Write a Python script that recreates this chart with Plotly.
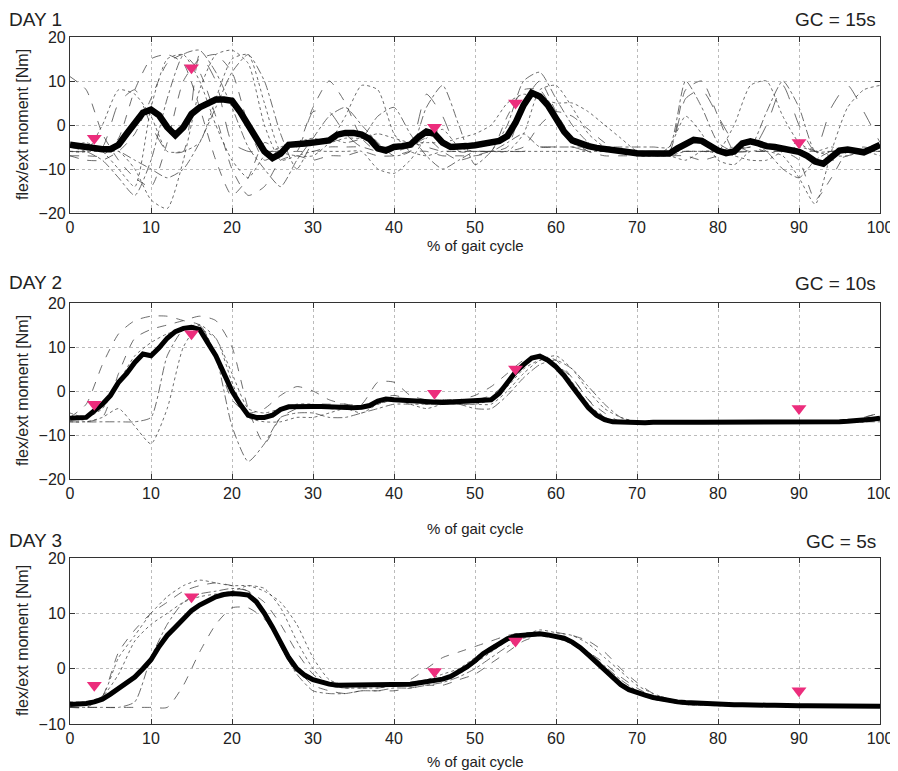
import plotly.graph_objects as go

# --- data ----------------------------------------------------------------
pct = list(range(0, 101))          # mean curves, 1 % steps
pct2 = list(range(0, 101, 2))      # single trials, 2 % steps

day1_mean = [-4.5, -4.8, -5, -5.2, -5.5, -5.5, -4.5, -2, 0.5, 2.8,
             3.5, 2.2, -0.5, -2.3, -0.5, 2.5, 4, 5, 5.8, 5.8,
             5.5, 3, 0, -3, -6, -7.5, -6.5, -4.5, -4.5, -4.2,
             -4, -3.8, -3.5, -2.2, -1.8, -1.8, -2.2, -3.2, -5.3, -5.8,
             -5, -4.8, -4.5, -2.8, -1.5, -2, -4, -5, -5, -4.8,
             -4.6, -4.3, -4, -3.6, -2.5, 0.5, 4.5, 7.3, 6.5, 4.5,
             1.5, -1.5, -3.5, -4.3, -4.8, -5.2, -5.5, -5.8, -6, -6.2,
             -6.4, -6.5, -6.6, -6.7, -6.5, -5.3, -4.2, -3.4, -3.6, -4.8,
             -5.8, -6.4, -6, -4.2, -3.7, -4.2, -4.8, -5, -5.3, -5.7,
             -6.1, -7, -8.3, -8.8, -7.5, -5.8, -5.6, -5.8, -6.2, -5.4,
             -4.5]

day1_trials = [
    [11, 8, -2, -8, -12, -14, -4, 10, 15, 16, 12, 0, -8, -6, -5, 4, 10, 5, -3, -6,
     -5, -4, -5, -6, -6, -6, -6, -5, 5, 10, 3, -3, -6, -6, -6, -6, -6, -6, 8, 10,
     2, -6, -6, -6, -6, -6, -6, -6, -6, -6, -6],
    [-6, -6, 0, 8, 7, 2, -6, -6, -4, 6, 15, 16, 5, -6, -7, -7, -4, 2, 9, 8,
     -2, -6, -7, -6, -6, -6, -6, -6, -2, 8, 9, 4, -2, -5, -6, -6, -7, -7, -6, -6,
     -6, 0, 9, 10, 2, -4, -6, -5, -6, -6, -6],
    [-5, -6, -8, -12, -16, -8, 6, 16, 17, 12, 4, -5, -10, -14, -8, -3, 2, 4, 0, -4,
     -7, -6, 4, 9, 0, -9, -6, 0, 10, 12, 6, 0, -4, -6, -6, -6, -6, -6, -6, -6,
     -6, -5, -5, 3, 10, 4, -6, -6, -6, -6, -6],
    [-7, -7, -7, -3, 8, 15, 16, 14, 4, -8, -16, -12, -4, -6, -6, -6, -5, -5, -5, -6,
     -6, -5, -3, -6, -8, -7, -6, -6, -5, 0, 3, 2, -1, -4, -6, -6, -6, -6, -6, -6,
     -6, -6, -6, -6, -6, -8, -17, -12, -6, -5, -6],
    [-6, -6, -6, -6, -10, -17, -19, -8, 8, 16, 17, 14, 0, -8, -7, -6, -6, -6, -6, -10,
     -11, -8, -3, -1, -5, -6, -6, -6, -6, -6, -6, -6, -6, -6, -6, -7, -7, -5, 2, -2,
     -8, -9, -6, -6, -7, -12, -18, -6, 4, 8, 9],
    [-6, -6, -5, 5, 8, 0, -6, -6, 16, 10, -4, -6, -6, -6, -6, 3, 3, -2, -5, -5,
     -5, -5, 7, 2, -6, -6, -6, -6, -6, -5, -5, -5, -6, -6, -6, -6, -6, -6, 6, 8,
     2, -4, -6, 0, 9, 0, -6, 4, 9, 3, -4],
    [-5, -4, -6, -10, -14, 4, 15, 16, 10, 0, -8, -12, -7, -5, -4, -3, -4, -3, -3, -2,
     -3, -4, -4, -4, -3, -2, 0, 5, 7, 6, 5, 5, 3, 0, -3, -6, -7, -7, -8, -6,
     -6, -7, -8, -8, -6, -5, -6, -7, -7, -6, -7],
    [-7, -8, -8, -6, -2, 6, 14, 16, 12, 2, -10, -16, -14, -8, -7, -8, -7, -7, -6, -7,
     -7, -6, -6, -7, -7, -7, -6, 2, 8, 8, 2, -4, -6, -7, -7, -7, -7, -7, -7, -8,
     -7, -6, -5, -6, -5, -4, -6, -8, -7, -6, -6],
    [-5, -5, -6, -6, -8, -10, -12, -10, -4, 4, 12, 16, 10, -2, -10, -4, -3, -4, -3, 2,
     4, -2, -7, -10, -8, -6, -6, -4, -2, -5, -5, -5, -5, -5, -5, -5, -5, -5, 10, 4,
     -4, -6, -4, -6, -10, -12, -8, -6, -6, -6, -5],
]

day2_mean = [-6.2, -6.2, -6, -4.5, -3, -1, 2, 4, 6.5, 8.4,
             8, 9.8, 12, 13.5, 14.2, 14.5, 14, 11, 8, 4,
             0, -3, -5.5, -6, -6, -5.5, -4.2, -3.6, -3.5, -3.5,
             -3.5, -3.5, -3.6, -3.7, -3.8, -3.8, -3.7, -3.3, -2.3, -1.8,
             -2, -2.1, -2.3, -2.4, -2.5, -2.6, -2.6, -2.5, -2.4, -2.4,
             -2.4, -2.3, -2, -0.5, 2, 4.3, 6, 7.5, 7.9, 7,
             5.5, 3.5, 1, -1.5, -3.8, -5.5, -6.5, -7, -7.1, -7.2,
             -7.2, -7.2, -7.1, -7.2, -7.1, -7.1, -7.2, -7.1, -7.1, -7.1,
             -7.0, -7.1, -7.1, -7.0, -7.1, -7.1, -7.1, -7.2, -7.2, -7.2,
             -7.2, -7.2, -7.1, -7.1, -7.1, -7.0, -6.9, -6.8, -6.7, -6.4,
             -6.2]

day2_trials = [
    [-6, -3, 6, 13, 16, 17, 17, 16, 15, 8, -2, -5, -4, -1, 1, 0, -2, -3, -3, 2,
     2, -1, -2, -2, -2, -1, 1, 4, 7, 8, 6, 3, -2, -5, -7, -7, -7, -7, -7, -7,
     -7, -7, -7, -7, -7, -7, -7, -7, -7, -6, -5],
    [-7, -7, -6, -4, -8, -12, -4, 10, 15, 12, 4, -4, -5, -4, -3, -3, -4, -4, -4, -3,
     -2, -2, -3, -3, -3, -3, -3, 0, 4, 7, 8, 5, 0, -4, -6, -7, -7, -7, -7, -7,
     -7, -7, -7, -7, -7, -7, -7, -7, -7, -7, -6],
    [-6, -7, -7, -7, -7, -6, 8, 14, 15, 8, -8, -16, -12, -6, -5, -5, -6, -6, -5, -4,
     -3, -3, -3, -3, -3, -4, -4, -1, 3, 6, 7, 5, 1, -3, -6, -7, -7, -7, -7, -7,
     -7, -7, -7, -7, -7, -7, -7, -7, -7, -7, -7],
    [-7, -7, -6, 4, 12, 14, 15, 16, 17, 16, 10, -4, -12, -6, -4, -3, -3, -3, -4, -2,
     -1, -2, -3, -2, -2, -2, -1, 2, 6, 8, 7, 3, -2, -6, -7, -7, -7, -7, -7, -7,
     -7, -7, -7, -7, -7, -7, -7, -7, -7, -6, -5],
    [-5, -6, -4, 2, 8, 11, 13, 14, 14, 12, 2, -6, -7, -7, -6, -6, -5, -4, -5, -3,
     -2, -3, -4, -3, -3, -3, -2, 1, 5, 7, 6, 2, -3, -6, -7, -7, -7, -7, -7, -7,
     -7, -7, -7, -7, -7, -7, -7, -7, -7, -7, -6],
]

day3_mean = [-6.5, -6.5, -6.3, -6, -5.5, -4.6, -3.6, -2.6, -1.5, 0,
             1.6, 4, 6, 7.5, 9, 10.5, 11.5, 12.3, 13, 13.4,
             13.6, 13.5, 13.3, 12.1, 10, 7.5, 4.6, 2, 0, -1.2,
             -2, -2.5, -2.8, -3, -3, -3, -3, -3, -3, -3,
             -3, -2.9, -2.8, -2.6, -2.4, -2.2, -1.9, -1.4, -0.6, 0.3,
             1.4, 2.7, 3.6, 4.6, 5.4, 5.9, 6.1, 6.3, 6.3, 6.1,
             5.9, 5.5, 4.8, 3.8, 2.5, 1.2, -0.2, -1.7, -2.9, -3.8,
             -4.4, -4.8, -5.2, -5.5, -5.8, -6, -6.1, -6.2, -6.3, -6.4,
             -6.4, -6.5, -6.5, -6.5, -6.6, -6.6, -6.6, -6.6, -6.7, -6.7,
             -6.7, -6.7, -6.7, -6.8, -6.8, -6.8, -6.8, -6.8, -6.8, -6.8,
             -6.8]

day3_trials = [
    [-7, -7, -5, 3, 7, 10, 12, 14, 15, 15.5, 15, 14, 12, 8, 3, -1, -3, -3.5, -3.5, -3.5,
     -3, -2, 0, 2, 3, 4, 5, 6, 6.5, 6.5, 6, 5, 3, 1, -1.5, -3.5, -5, -5.5, -6, -6.3,
     -6.5, -6.5, -6.6, -6.6, -6.7, -6.7, -6.7, -6.8, -6.8, -6.8, -6.8],
    [-6, -6.5, -5, 2, 6, 10, 13, 15, 16, 15.5, 15, 15, 14, 12, 8, 2, -2, -3, -3, -3,
     -3, -3, -2.5, -2, -1, 1, 3, 5, 6, 7, 6.5, 6, 4.5, 2, -0.5, -3, -4.5, -5.5, -6, -6.3,
     -6.5, -6.6, -6.6, -6.7, -6.7, -6.8, -6.8, -6.8, -6.8, -6.9, -6.9],
    [-7, -7, -7, -7, -6, 2, 8, 12, 13.5, 14, 14.5, 14, 10, 4, -1, -4, -4.5, -4.5, -4, -4,
     -3.5, -3.5, -3, -2.5, -1.5, 0, 2, 4, 5.5, 6, 6, 5, 3, 0.5, -2, -4, -5.5, -6, -6.5, -6.6,
     -6.7, -6.7, -6.8, -6.8, -6.8, -6.9, -6.9, -6.9, -6.9, -6.9, -6.9],
    [-7, -7, -7, -7, -7, -7, -7, -3, 3, 8, 11, 11, 9, 5, 0, -3, -4, -4.5, -4, -4,
     -4, -3.5, -3, -3, -2, -1, 1, 3, 5, 6, 6.5, 6, 5, 3, 0, -2.5, -4.5, -5.5, -6, -6.3,
     -6.5, -6.6, -6.6, -6.7, -6.7, -6.8, -6.8, -6.8, -6.8, -6.8, -6.8],
    [-6, -6, -5, -1, 5, 8, 10, 12, 13, 13.5, 14, 15, 14.5, 11, 5, 0, -3, -3.5, -3.5, -3.5,
     -3, -2.5, -2, -1, 0, 2, 4, 5.5, 6, 6, 5.5, 4.5, 2.5, 0, -2.5, -4.5, -5.5, -6, -6.5, -6.6,
     -6.6, -6.7, -6.7, -6.7, -6.8, -6.8, -6.8, -6.8, -6.8, -6.8, -6.8],
]

event_x = [3, 15, 45, 55, 90]
event_y = [-3, 13, -0.5, 5, -4]

day_names = ["DAY 1", "DAY 2", "DAY 3"]
gc_labels = ["GC = 15s", "GC = 10s", "GC = 5s"]
y_ranges = [[-20, 20], [-20, 20], [-10, 20]]

# --- layout, in pixels of the reference picture -------------------------
# the html page has an 8px body margin, so the figure itself is shifted
OFF = 8
W, H = 898 - OFF, 771 - OFF
panel_px = [(37, 213), (303, 479), (558, 724)]   # top, bottom of each plot box
title_px = [19, 282, 540]
xlabel_px = [245, 528, 761]
mean_width = [6.5, 5, 5]

FONT = "Liberation Sans, Arial, sans-serif"
PINK = "#ec2d7c"
dashes = ["dash", "dot", "dashdot", "dash", "dot", "longdash", "dot", "dash", "dashdot"]


def px(p):
    return (p - OFF) / W


def py(p):
    return 1 - (p - OFF) / H


fig = go.Figure()
all_means = [day1_mean, day2_mean, day3_mean]
all_trials = [day1_trials, day2_trials, day3_trials]
annotations = []

for k in range(3):
    n = "" if k == 0 else str(k + 1)
    xa, ya = "x" + n, "y" + n
    for j, tr in enumerate(all_trials[k]):
        fig.add_trace(go.Scatter(
            x=pct2, y=tr, xaxis=xa, yaxis=ya, mode="lines",
            line=dict(color="rgba(60,60,60,0.75)", width=1, dash=dashes[j % len(dashes)],
                      shape="spline", smoothing=0.6),
            hoverinfo="skip", showlegend=False))
    fig.add_trace(go.Scatter(
        x=pct, y=all_means[k], xaxis=xa, yaxis=ya, mode="lines",
        line=dict(color="black", width=mean_width[k]), showlegend=False))
    fig.add_trace(go.Scatter(
        x=event_x, y=event_y, xaxis=xa, yaxis=ya, mode="markers",
        marker=dict(symbol="triangle-down", size=13, color=PINK,
                    line=dict(width=0)), showlegend=False))

    top, bot = panel_px[k]
    axis_common = dict(showline=True, linecolor="#333", linewidth=1.2, mirror="ticks",
                       ticks="inside", ticklen=5, tickcolor="#333", automargin=False,
                       showgrid=True, gridcolor="#bbbbbb", griddash="dot", gridwidth=1,
                       zeroline=False, tickfont=dict(family=FONT, size=16, color="#222"))
    fig.layout["xaxis" + n] = dict(domain=[px(70), px(880)], anchor=ya,
                                   range=[0, 100], dtick=10, **axis_common)
    fig.layout["yaxis" + n] = dict(domain=[py(bot), py(top)], anchor=xa,
                                   range=y_ranges[k], dtick=10, **axis_common)

    annotations.append(dict(text=day_names[k], x=px(7), y=py(title_px[k]), xref="paper", yref="paper",
                            xanchor="left", yanchor="middle", showarrow=False,
                            font=dict(family=FONT, size=19, color="#222")))
    annotations.append(dict(text=gc_labels[k], x=px(878), y=py(title_px[k] + 1), xref="paper", yref="paper",
                            xanchor="right", yanchor="middle", showarrow=False,
                            font=dict(family=FONT, size=19, color="#222")))
    annotations.append(dict(text="% of gait cycle", x=px(475), y=py(xlabel_px[k]), xref="paper", yref="paper",
                            xanchor="center", yanchor="middle", showarrow=False,
                            font=dict(family=FONT, size=15, color="#222")))
    annotations.append(dict(text="flex/ext moment [Nm]", x=px(22), y=py((top + bot) / 2),
                            xref="paper", yref="paper", textangle=-90,
                            xanchor="center", yanchor="middle", showarrow=False,
                            font=dict(family=FONT, size=16, color="#222")))

fig.update_layout(width=W, height=H, margin=dict(l=0, r=0, t=0, b=0),
                  paper_bgcolor="white", plot_bgcolor="white",
                  annotations=annotations, showlegend=False)

fig.write_html("out.html")
